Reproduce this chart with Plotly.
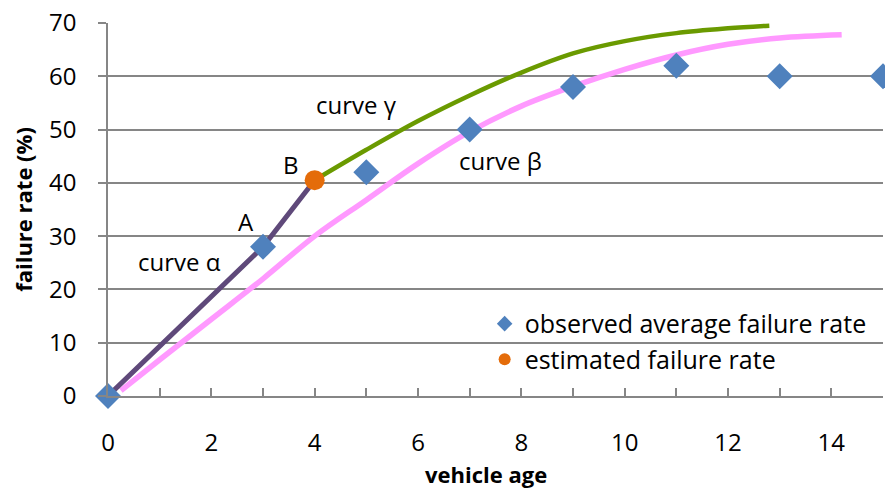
import plotly.graph_objects as go

# Observed average failure rate
obs_age = [0, 3, 5, 7, 9, 11, 13, 15]
obs_rate = [0, 28, 42, 50, 58, 62, 60, 60]

# Estimated failure rate
est_age = [4]
est_rate = [40.5]

# curve alpha
alpha_age = [0, 3, 4]
alpha_rate = [0, 28, 40.5]

# curve beta
beta_age = [0.25, 1, 2, 3, 4, 5, 6, 7, 8, 9, 10, 11, 12, 13, 14.2]
beta_rate = [1.0, 6.8, 14.4, 22.0, 30.0, 36.8, 43.6, 49.6, 54.4, 58.1, 61.3, 64.0, 66.0, 67.2, 67.8]

# curve gamma
gamma_age = [4, 5, 6, 7, 8, 9, 10, 11, 12, 12.8]
gamma_rate = [40.5, 46.2, 51.6, 56.4, 60.7, 64.3, 66.6, 68.1, 69.0, 69.5]

FONT = "Open Sans"
fs = 24
fs_title = 22

fig = go.Figure()
fig.add_trace(go.Scatter(x=beta_age, y=beta_rate, mode="lines", line=dict(color="#FF99FF", width=5.5),
                         showlegend=False, line_shape="spline", hoverinfo="skip"))
fig.add_trace(go.Scatter(x=gamma_age, y=gamma_rate, mode="lines", line=dict(color="#6A9A00", width=4.5),
                         showlegend=False, line_shape="spline", hoverinfo="skip"))
fig.add_trace(go.Scatter(x=alpha_age, y=alpha_rate, mode="lines", line=dict(color="#5F497A", width=5),
                         showlegend=False, hoverinfo="skip"))
fig.add_trace(go.Scatter(x=obs_age, y=obs_rate, mode="markers", name="observed average failure rate",
                         marker=dict(symbol="diamond", size=20, color="#4F81BD"), cliponaxis=False))
fig.add_trace(go.Scatter(x=est_age, y=est_rate, mode="markers", name="estimated failure rate",
                         marker=dict(symbol="circle", size=20, color="#E46C0A"), cliponaxis=False))

labels = [("curve α", 1.39, 25.2), ("A", 2.68, 32.8), ("B", 3.55, 43.5), ("curve γ", 4.8, 54.7), ("curve β", 7.6, 44.2)]
for t, x, y in labels:
    fig.add_annotation(x=x, y=y, text=t, showarrow=False, font=dict(family=FONT, size=fs, color="black"))

# x axis title placed as an annotation
fig.add_annotation(xref="paper", yref="paper", x=0.4877, y=0, yshift=-78, xanchor="center", yanchor="middle",
                   text="<b>vehicle age</b>", showarrow=False, font=dict(family=FONT, size=fs_title, color="black"))

fig.update_layout(
    width=885, height=489,
    margin=dict(l=108, r=2, t=23, b=93),
    paper_bgcolor="white", plot_bgcolor="white",
    font=dict(family=FONT, size=fs, color="black"),
    legend=dict(x=0.486, y=0.255, xanchor="left", yanchor="top", bgcolor="rgba(0,0,0,0)",
                font=dict(family=FONT, size=25), itemsizing="constant", tracegroupgap=0),
    xaxis=dict(range=[0, 15], dtick=2, tick0=0, showgrid=False, showline=True, linecolor="#868686", linewidth=1.5,
               ticks="inside", ticklen=8, tickcolor="#868686", tickwidth=1.5, automargin=False,
               minor=dict(dtick=1, ticks="inside", ticklen=8, tickcolor="#868686", tickwidth=1.5, showgrid=False),
               ticklabelstandoff=24, zeroline=False, ticklabeloverflow="allow"),
    yaxis=dict(range=[0, 70], dtick=10, showgrid=True, gridcolor="#868686", gridwidth=1.5,
               showline=True, linecolor="#868686", linewidth=1.5, ticks="outside", ticklen=8, automargin=False,
               tickcolor="#868686", tickwidth=1.5, ticklabelstandoff=17, zeroline=False, ticklabeloverflow="allow",
               title=dict(text="<b>failure rate (%)</b>", standoff=10, font=dict(family=FONT, size=fs_title))),
)

fig.write_html("out.html", config={"displayModeBar": False},
               post_script="document.body.style.margin='0';")
